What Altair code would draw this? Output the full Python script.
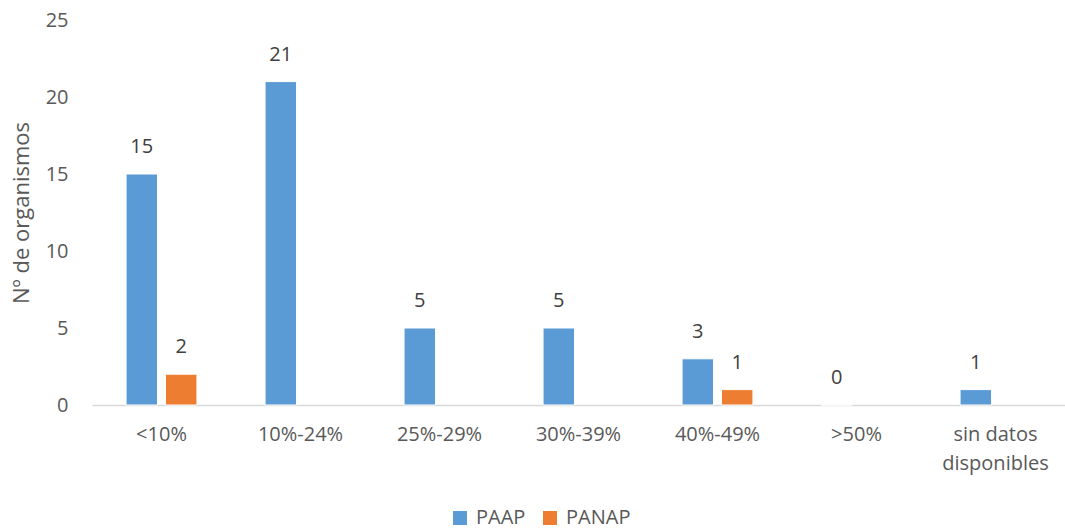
import altair as alt
import pandas as pd

categories = ["<10%", "10%-24%", "25%-29%", "30%-39%", "40%-49%", ">50%", "sin datos disponibles"]
paap = [15, 21, 5, 5, 3, 0, 1]
panap = [2, None, None, None, 1, None, None]
series = ["PAAP", "PANAP"]
colors = ["#5B9BD5", "#ED7D31"]

rows = []
for cat, a, b in zip(categories, paap, panap):
    rows.append({"cat": cat, "serie": "PAAP", "n": a})
    rows.append({"cat": cat, "serie": "PANAP", "n": b})
df = pd.DataFrame(rows)

FONT = "Open Sans"
GREY = "#595959"

x_enc = alt.X(
    "cat:N",
    sort=categories,
    scale=alt.Scale(paddingInner=0.49, paddingOuter=0.245),
    axis=alt.Axis(
        title=None,
        labelAngle=0,
        labelFont=FONT,
        labelFontSize=20,
        labelColor=GREY,
        labelPadding=19,
        ticks=False,
        grid=False,
        domainColor="#D9D9D9",
        domainWidth=1.5,
        labelLineHeight=29,
        labelExpr="datum.label == 'sin datos disponibles' ? ['sin datos', 'disponibles'] : datum.label",
    ),
)
off_enc = alt.XOffset("serie:N", sort=series, scale=alt.Scale(paddingInner=0.2))
y_enc = alt.Y(
    "n:Q",
    scale=alt.Scale(domain=[0, 25], nice=False),
    axis=alt.Axis(
        values=[0, 5, 10, 15, 20, 25],
        title="Nº de organismos",
        titleFont=FONT,
        titleFontSize=22,
        titleFontWeight="normal",
        titleColor=GREY,
        titlePadding=12,
        labelFont=FONT,
        labelFontSize=20,
        labelColor=GREY,
        labelPadding=24,
        ticks=False,
        domain=False,
        grid=False,
    ),
)

base = alt.Chart(df).encode(x=x_enc, xOffset=off_enc)

bars = base.mark_bar(stroke="white", strokeWidth=1).encode(
    y=y_enc,
    color=alt.Color(
        "serie:N",
        sort=series,
        scale=alt.Scale(domain=series, range=colors),
        legend=alt.Legend(
            title=None,
            orient="none",
            direction="horizontal",
            legendX=358,
            legendY=488,
            symbolType="square",
            symbolSize=196,
            symbolStrokeWidth=0,
            labelFont=FONT,
            labelFontSize=20,
            labelColor=GREY,
            columnPadding=14,
            labelOffset=6,
        ),
    ),
)

labels = base.transform_filter("isValid(datum.n)").mark_text(
    baseline="bottom", dy=-17, font=FONT, fontSize=20, color="#404040"
).encode(y="n:Q", text="n:Q")

chart = (
    alt.layer(bars, labels)
    .properties(
        width=973,
        height=385,
        autosize=alt.AutoSizeParams(type="none"),
        padding={"left": 92, "top": 20, "right": 0, "bottom": 125},
        view=alt.ViewBackground(strokeOpacity=0, strokeWidth=0),
    )
    .configure_view(strokeWidth=0, strokeOpacity=0)
    .configure_axis(grid=False)
    .configure(background="white")
)

chart.save("out.html", embed_options={"renderer": "svg", "actions": False})
